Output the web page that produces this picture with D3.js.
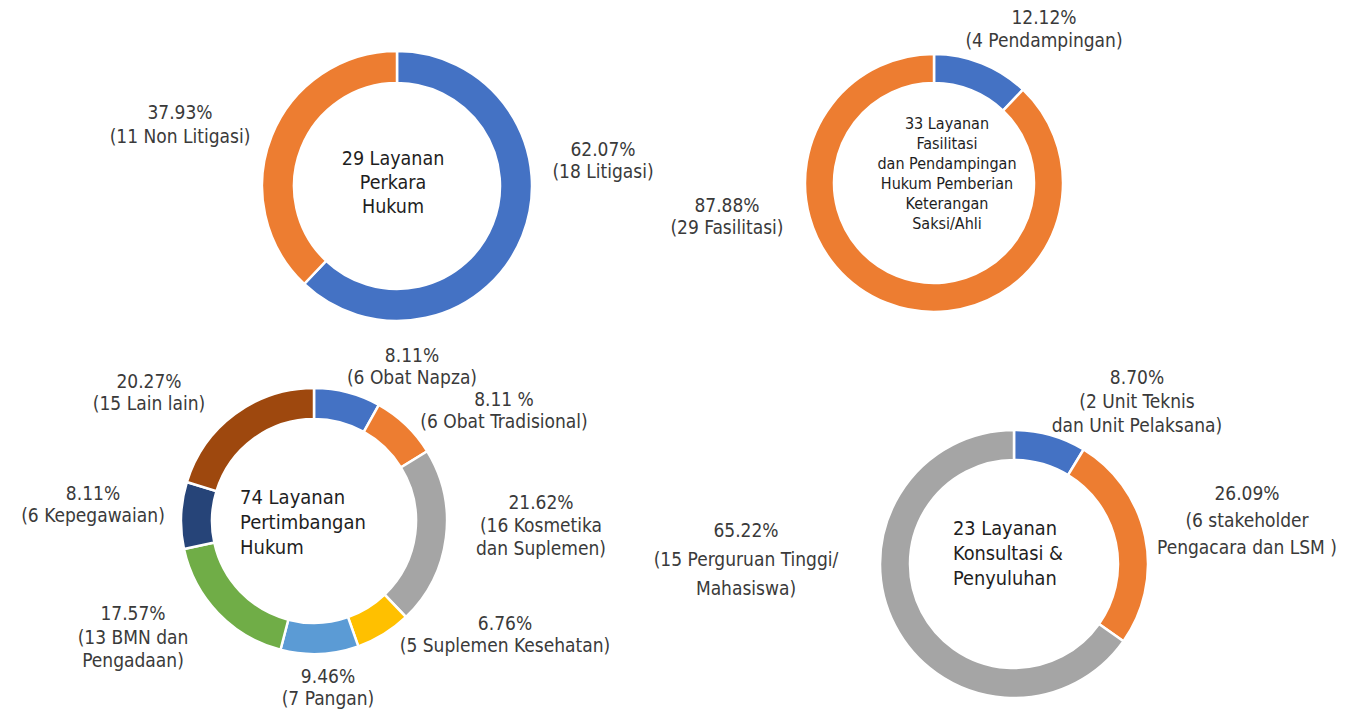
<!DOCTYPE html>
<html>
<head>
<meta charset="utf-8">
<script src="https://cdn.jsdelivr.net/npm/d3@7"></script>
<style>
  body { margin: 0; background: #fff; }
  svg { display: block; }
  .lbl { font-family: "Liberation Sans Narrow", "DejaVu Sans Condensed", Roboto, sans-serif; font-size: 19px; fill: #3a3a3a; }
  .ctr { font-family: "Liberation Sans Narrow", "DejaVu Sans Condensed", Lato, sans-serif; fill: #1e1e1e; }
</style>
</head>
<body>
<svg id="drawing_region"></svg>
<script>
// --- data ---
const perkaraValues = [18, 11];
const perkaraLabels = [["62.07%", "(18 Litigasi)"], ["37.93%", "(11 Non Litigasi)"]];
const perkaraTitle = ["29 Layanan", "Perkara", "Hukum"];

const fasilitasiValues = [4, 29];
const fasilitasiLabels = [["12.12%", "(4 Pendampingan)"], ["87.88%", "(29 Fasilitasi)"]];
const fasilitasiTitle = ["33 Layanan", "Fasilitasi", "dan Pendampingan", "Hukum Pemberian", "Keterangan", "Saksi/Ahli"];

const pertimbanganValues = [6, 6, 16, 5, 7, 13, 6, 15];
const pertimbanganLabels = [
    ["8.11%", "(6 Obat Napza)"],
    ["8.11 %", "(6 Obat Tradisional)"],
    ["21.62%", "(16 Kosmetika", "dan Suplemen)"],
    ["6.76%", "(5 Suplemen Kesehatan)"],
    ["9.46%", "(7 Pangan)"],
    ["17.57%", "(13 BMN dan", "Pengadaan)"],
    ["8.11%", "(6 Kepegawaian)"],
    ["20.27%", "(15 Lain lain)"]
];
const pertimbanganTitle = ["74 Layanan", "Pertimbangan", "Hukum"];

const konsultasiValues = [2, 6, 15];
const konsultasiLabels = [
    ["8.70%", "(2 Unit Teknis", "dan Unit Pelaksana)"],
    ["26.09%", "(6 stakeholder", "Pengacara dan LSM )"],
    ["65.22%", "(15 Perguruan Tinggi/", "Mahasiswa)"]
];
const konsultasiTitle = ["23 Layanan", "Konsultasi &", "Penyuluhan"];

const palette = ["#4472c4", "#ed7d31", "#a5a5a5", "#ffc000", "#5b9bd5", "#70ad47", "#264478", "#9e480e"];

// --- layout ---
const charts = [
    { values: perkaraValues, labels: perkaraLabels, title: perkaraTitle,
      cx: 397, cy: 186, r: 135, w: 32,
      titlePos: { x: 393, y: 158, anchor: 'middle', size: 19.5, lh: 24 },
      labelPos: [[603, 149, 22], [180, 112, 24]] },
    { values: fasilitasiValues, labels: fasilitasiLabels, title: fasilitasiTitle,
      cx: 934, cy: 183, r: 129, w: 29,
      titlePos: { x: 947, y: 123, anchor: 'middle', size: 16, lh: 20 },
      labelPos: [[1044, 17, 23], [727, 205, 21.5]] },
    { values: pertimbanganValues, labels: pertimbanganLabels, title: pertimbanganTitle,
      cx: 314, cy: 521, r: 133, w: 31,
      titlePos: { x: 240, y: 497, anchor: 'start', size: 20, lh: 25 },
      labelPos: [[412, 355, 21.5], [504, 399, 21.5], [541, 502, 23], [505, 623, 22],
                 [328, 676, 22], [133, 613, 23.5], [93, 493, 22], [149, 381, 22]] },
    { values: konsultasiValues, labels: konsultasiLabels, title: konsultasiTitle,
      cx: 1014, cy: 564, r: 134, w: 30,
      titlePos: { x: 953, y: 528, anchor: 'start', size: 19.8, lh: 25 },
      labelPos: [[1137, 377, 24], [1247, 493, 27], [746, 530, 29]] }
];

const svg = d3.select('#drawing_region')
    .attr('width', 1362)
    .attr('height', 710);

const pie = d3.pie().sort(null).value(d => d);

charts.forEach(c => {
    const arc = d3.arc().innerRadius(c.r - c.w).outerRadius(c.r);
    const g = svg.append('g').attr('transform', `translate(${c.cx},${c.cy})`);

    g.selectAll('path')
        .data(pie(c.values))
        .enter()
        .append('path')
        .attr('d', arc)
        .attr('fill', (d, i) => palette[i])
        .attr('stroke', '#fff')
        .attr('stroke-width', 2.5);

    // centre title
    const t = svg.append('text')
        .attr('class', 'ctr')
        .attr('text-anchor', c.titlePos.anchor)
        .attr('dominant-baseline', 'central')
        .style('font-size', c.titlePos.size + 'px');
    c.title.forEach((line, i) => {
        t.append('tspan')
            .attr('x', c.titlePos.x)
            .attr('y', c.titlePos.y + i * c.titlePos.lh)
            .text(line);
    });

    // slice labels
    c.labels.forEach((lines, i) => {
        const p = c.labelPos[i];
        const lt = svg.append('text')
            .attr('class', 'lbl')
            .attr('text-anchor', 'middle')
            .attr('dominant-baseline', 'central');
        lines.forEach((line, j) => {
            lt.append('tspan')
                .attr('x', p[0])
                .attr('y', p[1] + j * p[2])
                .text(line);
        });
    });
});
</script>
</body>
</html>
